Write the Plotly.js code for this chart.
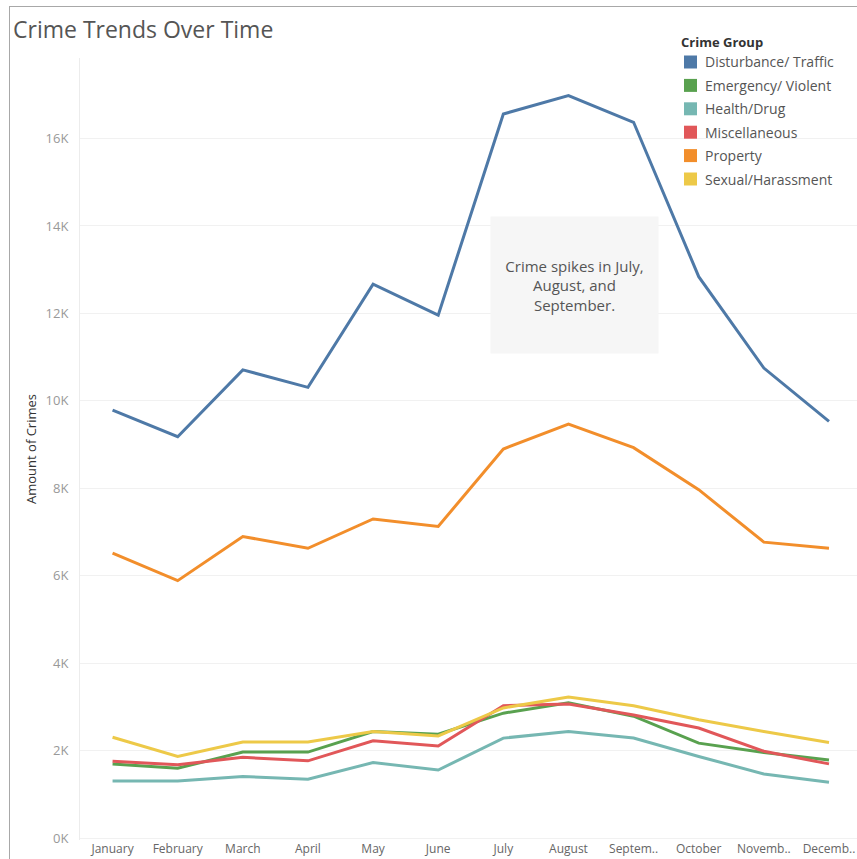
<!DOCTYPE html>
<html>
<head>
<meta charset="utf-8">
<script src="https://cdn.plot.ly/plotly-3.0.1.min.js"></script>
<style>
  html, body { margin: 0; padding: 0; background: #fff; overflow: hidden; }
  #frame { position: absolute; left: 9px; top: 6px; width: 860px; height: 860px;
           border-left: 1px solid #a8a8a8; border-top: 1px solid #a8a8a8; }
  #chart { position: absolute; left: 0; top: 0; width: 857px; height: 859px; }
</style>
</head>
<body>
<div id="frame"></div>
<div id="chart"></div>
<script>
const months = ["January","February","March","April","May","June","July","August","September","October","November","December"];
const monthLabels = ["January","February","March","April","May","June","July","August","Septem..","October","Novemb..","Decemb.."];

const groups = ["Disturbance/ Traffic","Emergency/ Violent","Health/Drug","Miscellaneous","Property","Sexual/Harassment"];
const colors = ["#4e79a7","#59a14f","#76b7b2","#e15759","#f28e2b","#edc948"];

const disturbanceTraffic = [9790, 9180, 10710, 10310, 12670, 11960, 16560, 16980, 16370, 12840, 10750, 9530];
const emergencyViolent   = [1700, 1600, 1970, 1970, 2440, 2380, 2860, 3100, 2790, 2175, 1960, 1790];
const healthDrug         = [1310, 1310, 1410, 1350, 1730, 1560, 2290, 2440, 2290, 1870, 1470, 1280];
const miscellaneous      = [1760, 1680, 1850, 1770, 2230, 2110, 3030, 3070, 2820, 2520, 1990, 1700];
const property           = [6520, 5890, 6900, 6630, 7300, 7130, 8900, 9470, 8930, 7970, 6770, 6630];
const sexualHarassment   = [2310, 1870, 2200, 2200, 2440, 2340, 2980, 3230, 3030, 2710, 2440, 2190];

const series = [disturbanceTraffic, emergencyViolent, healthDrug, miscellaneous, property, sexualHarassment];

const yTickVals = [0, 2000, 4000, 6000, 8000, 10000, 12000, 14000, 16000];
const yTickText = ["0K","2K","4K","6K","8K","10K","12K","14K","16K"];

const legendTitle = "Crime Group";
const annotationText = "Crime spikes in July,<br>August, and<br>September.";

const font = "'Open Sans', 'DejaVu Sans', sans-serif";

// plot-area geometry (pixels) used to place legend pieces in paper coords
const M = { l: 80, r: 0, t: 58, b: 19 };
const W = 857, H = 859;
const pw = W - M.l - M.r, ph = H - M.t - M.b;
const px = v => (v - M.l) / pw;
const py = v => (H - M.b - v) / ph;

const traces = series.map((vals, i) => ({
  type: "scatter", mode: "lines",
  x: months, y: vals, name: groups[i],
  line: { color: colors[i], width: 3 },
  showlegend: false,
  hoverinfo: "x+y+name"
}));

const annotations = [];
const shapes = [];

// Legend (built from groups/colors)
annotations.push({
  xref: "paper", yref: "paper", x: px(679), y: py(42),
  xanchor: "left", yanchor: "middle", showarrow: false,
  text: "<b>" + legendTitle + "</b>",
  font: { family: font, size: 13, color: "#333" }
});
groups.forEach((g, i) => {
  const rowY = 62 + i * 23.4;
  shapes.push({
    type: "rect", xref: "paper", yref: "paper",
    x0: px(684), x1: px(697), y0: py(rowY - 6.5), y1: py(rowY + 6.5),
    fillcolor: colors[i], line: { width: 0 }
  });
  annotations.push({
    xref: "paper", yref: "paper", x: px(703), y: py(rowY),
    xanchor: "left", yanchor: "middle", showarrow: false,
    text: g, font: { family: font, size: 14, color: "#555" }
  });
});

// Call-out box
annotations.push({
  xref: "paper", yref: "paper",
  x: px(574.5), y: py(285), xanchor: "center", yanchor: "middle",
  text: annotationText, showarrow: false,
  align: "center",
  width: 165, height: 134,
  bgcolor: "#f6f6f6",
  font: { family: font, size: 15, color: "#555" }
});

const layout = {
  width: W, height: H,
  margin: M,
  paper_bgcolor: "rgba(0,0,0,0)",
  plot_bgcolor: "rgba(0,0,0,0)",
  font: { family: font, color: "#555" },
  title: {
    text: "Crime Trends Over Time",
    x: 13 / W, xref: "container", xanchor: "left",
    y: 1, yref: "container", yanchor: "top",
    pad: { t: 22 },
    font: { family: font, size: 23, color: "#555" }
  },
  xaxis: {
    type: "category",
    categoryorder: "array", categoryarray: months,
    tickvals: months, ticktext: monthLabels,
    range: [-0.5, 11.43],
    showgrid: false, zeroline: false, showline: false,
    ticks: "", tickfont: { family: font, size: 12, color: "#666" },
    fixedrange: true
  },
  yaxis: {
    range: [-40, 17840],
    tickvals: yTickVals, ticktext: yTickText,
    showgrid: true, gridcolor: "#f1f1f1", gridwidth: 1,
    zeroline: false,
    showline: true, linecolor: "#ececec", linewidth: 1,
    ticks: "", ticklabelstandoff: 8,
    tickfont: { family: font, size: 13, color: "#999" },
    title: { text: "Amount of Crimes", standoff: 6,
             font: { family: font, size: 13, color: "#333" } },
    fixedrange: true
  },
  shapes: shapes,
  annotations: annotations,
  showlegend: false
};

Plotly.newPlot("chart", traces, layout, { displayModeBar: false, staticPlot: true });
</script>
</body>
</html>
